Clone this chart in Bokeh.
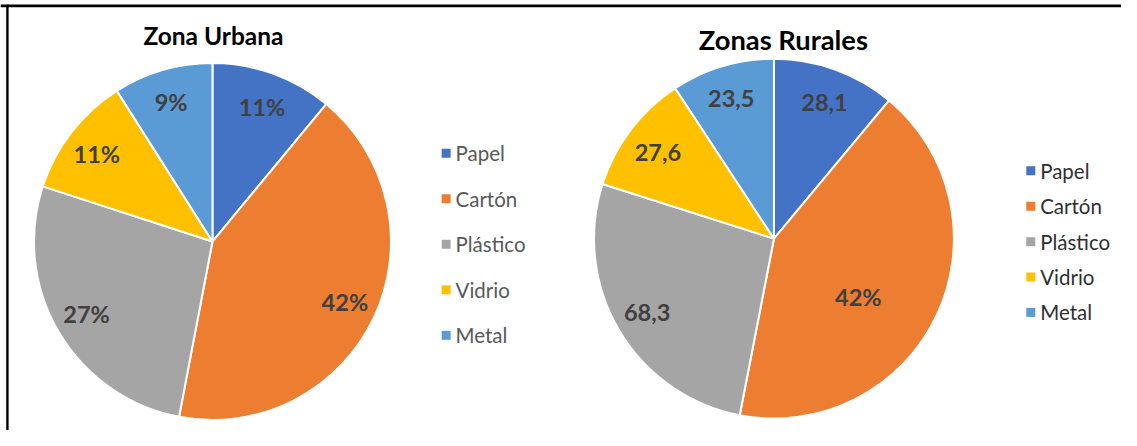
import math
from bokeh.plotting import figure
from bokeh.models import Range1d, ColumnDataSource
from bokeh.core.properties import value
from bokeh.embed import file_html
from bokeh.resources import INLINE

# ---------------- data ----------------
categories = ["Papel", "Cartón", "Plástico", "Vidrio", "Metal"]
urban_values = [11, 42, 27, 11, 9]
urban_labels = ["11%", "42%", "27%", "11%", "9%"]
rural_values = [28.1, 106.8, 68.3, 27.6, 23.5]
rural_labels = ["28,1", "42%", "68,3", "27,6", "23,5"]
colors = ["#4472C4", "#ED7D31", "#A5A5A5", "#FFC000", "#5B9BD5"]
titles = ["Zona Urbana", "Zonas Rurales"]

# ---------------- layout / style ----------------
W, H = 1121, 430          # figure size in screen pixels
REF_W, REF_H = 1137, 446  # coordinate space of the layout (y measured downwards)


def Y(y_ref):
    return REF_H - y_ref


p = figure(width=W, height=H, output_backend="svg", toolbar_location=None,
           x_range=Range1d(0, REF_W), y_range=Range1d(0, REF_H),
           min_border=0)
p.axis.visible = False
p.grid.visible = False
p.outline_line_color = None
p.background_fill_color = "white"
p.border_fill_color = "white"

# frame lines (top and left)
p.segment(x0=[0], y0=[Y(5.6)], x1=[REF_W], y1=[Y(5.6)], line_color="black", line_width=2.6)
p.segment(x0=[7], y0=[Y(4.3)], x1=[7], y1=[Y(REF_H)], line_color="black", line_width=2.4)


def pie(cx, cy, r, vals, labels, label_frac, label_dangle, legend_x, legend_y0, legend_dy,
        legend_color, title, title_x, title_y, title_size):
    total = float(sum(vals))
    cum = 0.0
    starts, ends, lx, ly = [], [], [], []
    for i, v in enumerate(vals):
        a0 = math.pi / 2 - 2 * math.pi * cum / total
        cum += v
        a1 = math.pi / 2 - 2 * math.pi * cum / total
        starts.append(a1)
        ends.append(a0)
        mid = (a0 + a1) / 2 + math.radians(label_dangle[i])
        lx.append(cx + label_frac[i] * r * math.cos(mid))
        ly.append(Y(cy) + label_frac[i] * r * math.sin(mid))
    src = ColumnDataSource(dict(x=[cx] * len(vals), y=[Y(cy)] * len(vals),
                                s=starts, e=ends, c=colors))
    p.wedge(x="x", y="y", radius=r, start_angle="s", end_angle="e", fill_color="c",
            line_color="white", line_width=2, source=src)
    p.text(x=lx, y=ly, text=labels, text_align="center", text_baseline="middle",
           text_font=value("Lato"), text_font_style="bold", text_font_size="23.5px",
           text_color="#404040")
    # legend
    ys = [Y(legend_y0 + i * legend_dy) for i in range(len(categories))]
    p.rect(x=[legend_x] * len(categories), y=ys, width=9, height=9,
           width_units="screen", height_units="screen", fill_color=colors, line_color=None)
    p.text(x=[legend_x + 9.5] * len(categories), y=ys, text=categories,
           text_align="left", text_baseline="middle", text_font=value("Lato"),
           text_font_size="20.5px", text_color=legend_color)
    # title
    p.text(x=[title_x], y=[Y(title_y)], text=[title], text_align="center",
           text_baseline="alphabetic", text_font=value("Lato"), text_font_style="bold",
           text_font_size=title_size, text_color="#000000")


pie(215, 250, 181, urban_values, urban_labels,
    [0.82, 0.82, 0.82, 0.82, 0.83], [0, 0, 0, 0, 0],
    452, 158.5, 47.2, "#595959", titles[0], 216, 36, "24.5px")
pie(784.5, 247, 182.5, rural_values, rural_labels,
    [0.825, 0.575, 0.82, 0.81, 0.83], [0, -10, 0, 0, 0],
    1045, 176.7, 36.7, "#303030", titles[1], 794, 40, "27.3px")

open("out.html", "w").write(file_html(p, INLINE))
